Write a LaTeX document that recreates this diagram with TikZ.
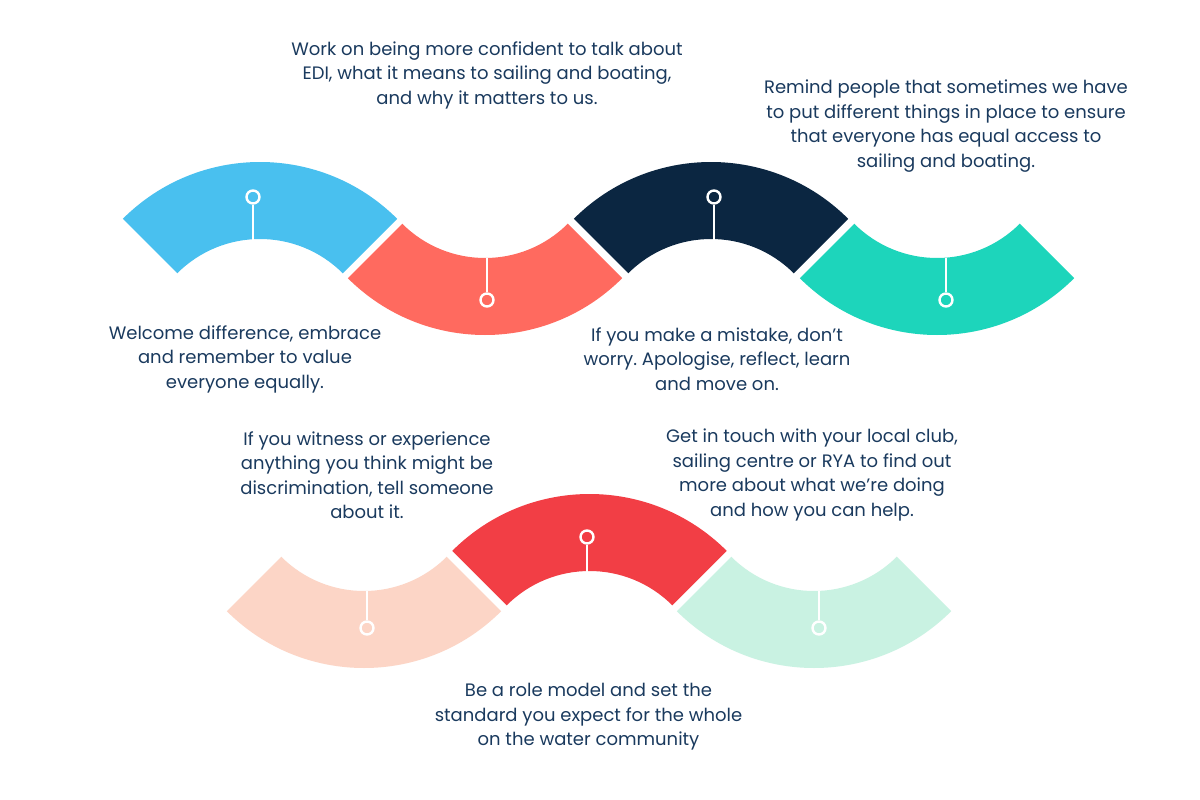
\documentclass[tikz,border=0pt]{standalone}
\usepackage{fontspec}
\setmainfont{Poppins}
\frenchspacing
\definecolor{cblue}{HTML}{49C0EF}
\definecolor{ccoral}{HTML}{FF6A5F}
\definecolor{cnavy}{HTML}{0B2641}
\definecolor{cteal}{HTML}{1DD5BB}
\definecolor{cpeach}{HTML}{FCD5C6}
\definecolor{cred}{HTML}{F23E45}
\definecolor{cmint}{HTML}{C9F2E2}
\definecolor{ctext}{HTML}{1A3A5E}
\tikzset{
  pinc/.style={circle,draw=white,line width=2.4pt,inner sep=0pt,minimum size=13pt},
  pinline/.style={draw=white,line width=2pt},
  txt/.style={align=center,text=ctext,font=\fontsize{18}{24.5}\selectfont,inner sep=0pt},
}
\newcommand{\uparc}[3]{% cx, cy, color
  \fill[#3] ($(#1,#2)+(225:194)$) arc[start angle=225,end angle=315,radius=194]
    -- ($(#1,#2)+(315:117)$) arc[start angle=315,end angle=225,radius=117] -- cycle;}
\newcommand{\downarc}[3]{%
  \fill[#3] ($(#1,#2)+(45:194)$) arc[start angle=45,end angle=135,radius=194]
    -- ($(#1,#2)+(135:117)$) arc[start angle=135,end angle=45,radius=117] -- cycle;}
\usetikzlibrary{calc}
\begin{document}
\begin{tikzpicture}[x=1pt,y=-1pt]
\fill[white] (0,0) rectangle (1200,800);
\useasboundingbox (0,0) rectangle (1200,800);
% top row
\uparc{260}{356}{cblue}
\downarc{485}{141}{ccoral}
\uparc{711}{356}{cnavy}
\downarc{937}{141}{cteal}
% bottom row
\downarc{364}{474}{cpeach}
\uparc{589.5}{688}{cred}
\downarc{814}{474}{cmint}
% pins
\node[pinc] (p1) at (253,197) {};
\coordinate (b1) at (253,239.5);
\draw[pinline] (p1) -- (b1);
\node[pinc] (p2) at (487,300) {};
\coordinate (b2) at (487,257.5);
\draw[pinline] (p2) -- (b2);
\node[pinc] (p3) at (714,197) {};
\coordinate (b3) at (714,239.5);
\draw[pinline] (p3) -- (b3);
\node[pinc] (p4) at (946,300) {};
\coordinate (b4) at (946,257.5);
\draw[pinline] (p4) -- (b4);
\node[pinc] (p5) at (367,628) {};
\coordinate (b5) at (367,590.5);
\draw[pinline] (p5) -- (b5);
\node[pinc] (p6) at (587,537) {};
\coordinate (b6) at (587,571.5);
\draw[pinline] (p6) -- (b6);
\node[pinc] (p7) at (819,628) {};
\coordinate (b7) at (819,590.5);
\draw[pinline] (p7) -- (b7);
% texts
\node[txt] (t1) at (487,75) {Work on being more confident to talk about\\EDI, what it means to sailing and boating,\\and why it matters to us.};
\node[txt] (t2) at (946,126) {Remind people that sometimes we have\\to put different things in place to ensure\\that everyone has equal access to\\sailing and boating.};
\node[txt] (t3) at (245,359) {Welcome difference, embrace\\and remember to value\\everyone equally.};
\node[txt] (t4) at (717,359) {If you make a mistake, don’t\\worry. Apologise, reflect, learn\\and move on.};
\node[txt] (t5) at (367,475) {If you witness or experience\\anything you think might be\\discrimination, tell someone\\about it.};
\node[txt] (t6) at (812,475) {Get in touch with your local club,\\sailing centre or RYA to find out\\more about what we’re doing\\and how you can help.};
\node[txt] (t7) at (588.5,717) {Be a role model and set the\\standard you expect for the whole\\on the water community};
\end{tikzpicture}
\end{document}
